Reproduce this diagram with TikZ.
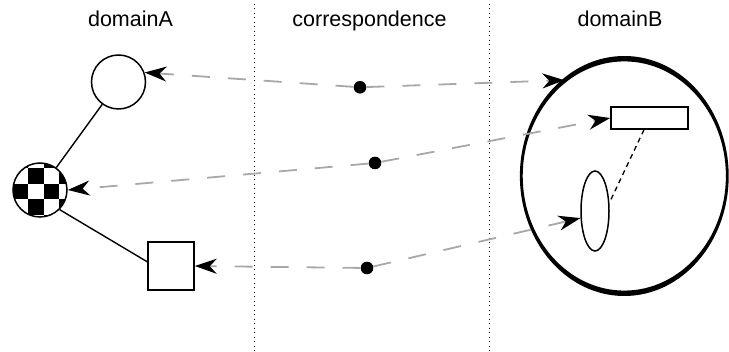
\documentclass[tikz,border=0pt]{standalone}
\usepackage{fontspec}
\setmainfont{Liberation Sans}
\usetikzlibrary{shapes.geometric,arrows.meta,positioning}
\definecolor{LinkGray}{HTML}{A8A8A8}
\tikzset{
  DL/.style={font=\fontsize{21.5}{26}\selectfont,anchor=base,inner sep=0pt},
  SH/.style={draw,line width=1.5pt,inner sep=0pt},
  CR/.style={SH,circle,minimum size=54pt},
  HUB/.style={circle,fill=black,minimum size=12.6pt,inner sep=0pt},
  lnk/.style={-{Stealth[length=22pt,width=15pt,inset=7pt,color=black]},
              draw=LinkGray,line width=1.8pt,dash pattern=on 18pt off 18pt},
  sep/.style={line width=0.9pt,dash pattern=on 0.9pt off 3.6pt}
}
\begin{document}
\begin{tikzpicture}[x=1pt,y=-1pt]
  \useasboundingbox (0,0) rectangle (729,352);

  \node[DL] (tA) at (130.5,27) {domainA};
  \node[DL] (tC) at (369.5,27) {correspondence};
  \node[DL] (tB) at (620,27) {domainB};
  \draw[sep] (254,4) -- (254,352);
  \draw[sep] (489,4) -- (489,352);

  \begin{scope}
    \clip (40,190) circle (27pt);
    \foreach \i in {-1,...,2}
      \foreach \j in {-1,...,3}{
        \pgfmathparse{int(mod(\i+\j+10,2))}
        \ifnum\pgfmathresult=0
          \fill (28+15.6*\i,168.3+15.6*\j) rectangle ++(15.6,15.6);
        \fi}
  \end{scope}

  \node[CR] (A1) at (118.5,82) {};
  \node[CR] (C) at (40,190) {};
  \node[SH,minimum width=46pt,minimum height=48pt] (Q) at (171,266) {};
  \node[ellipse,minimum width=206pt,minimum height=235pt,inner sep=0pt] (B) at (624.3,176) {};
  \fill[even odd rule] (B.center) ellipse [x radius=104.4pt,y radius=120pt]
                       (B.center) ellipse [x radius=101.6pt,y radius=114.6pt];
  \node[SH,minimum width=77pt,minimum height=22pt] (R) at (649.5,118) {};
  \node[SH,ellipse,minimum width=28pt,minimum height=80pt] (E) at (595,211) {};

  \node[HUB] (h1) at (360,87.3) {};
  \node[HUB] (h2) at (375,163) {};
  \node[HUB] (h3) at (367,268) {};

  \draw[line width=1.4pt] (A1) -- (C);
  \draw[line width=1.4pt] (C.-45) -- (Q.170);
  \draw[line width=1.3pt,dash pattern=on 5pt off 4pt] ([xshift=-5.5pt]R.south) -- (E.30);

  \draw[lnk] (h1) -- (A1.20);
  \draw[lnk] (h1) -- (B.122.7);
  \draw[lnk] (h2) -- (C.east);
  \draw[lnk] (h2) -- (R.west);
  \draw[lnk] (h3) -- (Q.east);
  \draw[lnk] (h3) -- (E.206);
\end{tikzpicture}
\end{document}
